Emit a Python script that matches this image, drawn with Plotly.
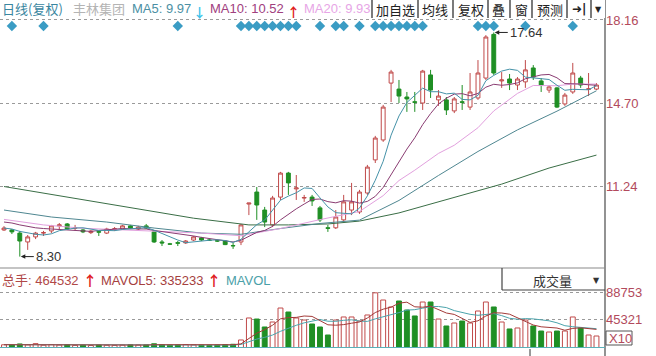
import plotly.graph_objects as go

# ---------------- data ----------------
days = list(range(76))

open_ = [9.41, 9.41, 9.28, 8.91, 9.12, 9.28, 9.37, 9.58, 9.66, 9.48,
         9.41, 9.30, 9.34, 9.28, 9.44, 9.45, 9.58, 9.45, 9.58, 9.33,
         8.91, 8.83, 8.88, 8.87, 8.99, 9.08, 8.99, 8.96, 8.95, 8.76,
         8.91, 10.49, 10.99, 10.24, 9.62, 10.78, 11.78, 11.12, 10.74, 10.78,
         10.33, 9.50, 9.50, 9.83, 10.24, 10.16, 10.95, 12.33, 13.16, 15.53,
         15.28, 14.95, 14.75, 14.70, 15.87, 14.83, 14.83, 14.37, 14.75, 14.53,
         14.91, 15.74, 17.56, 15.62, 15.70, 15.45, 15.58, 16.16, 15.62, 15.24,
         15.33, 14.66, 15.16, 15.74, 15.27, 15.28]
high_ = [9.57, 9.45, 9.37, 9.20, 9.33, 9.37, 9.62, 9.70, 9.70, 9.62,
         9.45, 9.41, 9.37, 9.50, 9.53, 9.62, 9.62, 9.58, 9.66, 9.37,
         8.99, 8.87, 8.95, 8.99, 9.16, 9.12, 9.03, 9.00, 8.99, 8.87,
         9.66, 10.53, 11.20, 10.37, 10.83, 11.83, 11.83, 11.70, 10.87, 10.87,
         10.41, 9.62, 10.24, 10.87, 11.37, 11.08, 12.12, 13.33, 14.62, 16.08,
         15.66, 15.16, 15.16, 16.08, 16.08, 15.24, 14.95, 14.95, 15.45, 15.95,
         16.49, 17.53, 17.64, 15.99, 15.91, 15.78, 16.49, 16.28, 15.74, 15.45,
         15.37, 15.12, 16.37, 15.83, 15.95, 15.53]
low_ = [9.37, 9.24, 8.30, 8.58, 9.03, 9.16, 9.28, 9.41, 9.41, 9.37,
        9.28, 9.24, 9.16, 9.24, 9.37, 9.41, 9.45, 9.41, 9.45, 8.87,
        8.74, 8.79, 8.74, 8.83, 8.95, 8.95, 8.95, 8.91, 8.78, 8.62,
        8.78, 10.03, 9.83, 9.53, 9.53, 10.66, 10.87, 10.66, 10.58, 10.41,
        9.74, 9.33, 9.45, 9.74, 10.03, 10.08, 10.87, 12.20, 13.08, 14.74,
        14.70, 14.33, 14.33, 14.41, 14.91, 14.58, 14.20, 14.28, 14.41, 14.41,
        14.83, 15.66, 15.87, 15.33, 15.24, 15.24, 15.33, 15.66, 15.16, 15.12,
        14.49, 14.58, 15.08, 15.33, 14.99, 15.24]
close_ = [9.49, 9.33, 8.95, 9.12, 9.28, 9.30, 9.58, 9.62, 9.45, 9.50,
          9.33, 9.36, 9.32, 9.45, 9.46, 9.58, 9.49, 9.53, 9.49, 8.91,
          8.87, 8.82, 8.86, 8.95, 9.12, 8.99, 8.98, 8.95, 8.80, 8.75,
          9.62, 10.53, 10.45, 9.74, 10.74, 11.78, 11.37, 11.16, 10.76, 10.62,
          9.83, 9.48, 9.95, 10.58, 10.58, 10.99, 12.03, 13.24, 14.53, 15.99,
          14.99, 14.87, 14.73, 16.03, 15.24, 14.99, 14.41, 14.87, 14.73, 15.16,
          15.95, 17.45, 15.95, 15.66, 15.53, 15.70, 16.08, 15.78, 15.45, 15.37,
          14.53, 15.03, 15.95, 15.45, 15.29, 15.45]

ma5 = [9.49, 9.45, 9.35, 9.28, 9.23, 9.20, 9.25, 9.38, 9.45, 9.49,
       9.50, 9.45, 9.39, 9.39, 9.38, 9.43, 9.46, 9.50, 9.51, 9.40,
       9.26, 9.12, 8.99, 8.88, 8.92, 8.95, 8.98, 9.00, 8.97, 8.89,
       9.02, 9.33, 9.63, 9.82, 10.22, 10.65, 10.82, 10.96, 11.16, 11.14,
       10.75, 10.37, 10.13, 10.09, 10.08, 10.32, 10.83, 11.48, 12.27, 13.36,
       14.16, 14.72, 15.02, 15.32, 15.17, 15.17, 15.08, 15.11, 14.85, 14.83,
       15.02, 15.63, 15.85, 16.03, 16.11, 16.06, 15.78, 15.75, 15.71, 15.68,
       15.44, 15.23, 15.27, 15.27, 15.25, 15.43]
ma10 = [9.74, 9.70, 9.62, 9.55, 9.50, 9.47, 9.45, 9.43, 9.40, 9.38,
        9.35, 9.35, 9.39, 9.42, 9.44, 9.47, 9.46, 9.45, 9.45, 9.39,
        9.35, 9.29, 9.25, 9.20, 9.16, 9.10, 9.05, 8.99, 8.93, 8.91,
        8.98, 9.16, 9.31, 9.39, 9.56, 9.83, 10.07, 10.29, 10.49, 10.68,
        10.70, 10.59, 10.54, 10.63, 10.61, 10.53, 10.60, 10.81, 11.18, 11.72,
        12.24, 12.78, 13.25, 13.80, 14.26, 14.66, 14.90, 15.07, 15.09, 15.00,
        15.10, 15.36, 15.48, 15.44, 15.47, 15.54, 15.71, 15.80, 15.87, 15.89,
        15.75, 15.51, 15.51, 15.49, 15.46, 15.44]
ma20_days = [0, 5, 10, 15, 20, 25, 30, 35, 40, 45, 48, 50, 52, 55, 57, 60, 62, 65, 67, 70, 72, 75]
ma20 = [9.85, 9.62, 9.48, 9.42, 9.35, 9.28, 9.17, 9.47, 9.84, 10.18, 10.84, 11.47,
        11.90, 12.60, 12.94, 13.67, 14.37, 15.10, 15.43, 15.42, 15.49, 15.49]
ma30_days = [0, 6, 13, 19, 25, 30, 35, 40, 45, 50, 55, 60, 65, 70, 75]
ma30 = [10.24, 9.95, 9.74, 9.49, 9.28, 9.23, 9.47, 9.68, 9.82, 10.64, 11.68, 12.68, 13.58, 14.36, 15.21]
ma60_days = [0, 8, 18, 24, 31, 36, 41, 45, 50, 56, 63, 69, 75]
ma60 = [11.22, 10.78, 10.20, 9.90, 9.62, 9.62, 9.66, 9.78, 10.12, 10.66, 11.32, 11.99, 12.53]

volume = [5200, 4800, 6500, 5000, 7000, 4500, 5500, 4800, 5600, 4200,
          4600, 4000, 4800, 4400, 4200, 4600, 5200, 4800, 5000, 6800,
          5200, 4500, 4800, 5500, 4900, 4600, 4300, 4700, 5400, 6000,
          12900, 48300, 46600, 33800, 41800, 64300, 57900, 48300, 45000, 38600,
          33800, 20900, 45000, 49900, 49900, 43400, 53100, 88753, 77200, 66000,
          75600, 61100, 51500, 74000, 74000, 46600, 35400, 40200, 43400, 40200,
          59500, 74000, 66000, 41800, 30600, 32200, 45000, 35400, 27300, 25700,
          27300, 27300, 49900, 32200, 20900, 19300]
mavol5 = [5300, 5200, 5400, 5300, 5700, 5560, 5660, 5460, 5480, 5220,
          4940, 4640, 4640, 4400, 4400, 4520, 4640, 4640, 4760, 5280,
          5320, 5260, 5260, 5360, 5380, 5100, 4820, 4800, 5000, 5280,
          6660, 15460, 23840, 29520, 36680, 46960, 48880, 49220, 51460, 50820,
          44720, 37320, 36660, 37640, 39900, 41820, 48260, 57010, 62470, 65690,
          72130, 73730, 66280, 65640, 67240, 61440, 56300, 54040, 47920, 41160,
          43740, 51460, 56620, 56300, 54380, 48920, 43120, 37000, 34100, 33120,
          32140, 28600, 31500, 32480, 31520, 29920]
mavol10 = [5400, 5350, 5350, 5300, 5300, 5350, 5400, 5300, 5300, 5300,
           5320, 5200, 5030, 4950, 4870, 4880, 4860, 4860, 4800, 4860,
           4890, 4880, 4880, 4930, 4990, 4990, 4920, 4910, 4950, 4830,
           5760, 10140, 14320, 17150, 20840, 26810, 32170, 36530, 40490, 43750,
           45840, 43100, 42940, 44550, 45360, 43270, 42790, 46840, 50060, 52800,
           56980, 61000, 61650, 64060, 66470, 66790, 65020, 60160, 56780, 54200,
           52590, 53880, 55330, 52110, 47770, 46330, 47290, 46810, 45200, 43750,
           40530, 35860, 34250, 33290, 32320, 31030]

signal_days = [1, 5, 22, 30, 31, 32, 33, 34, 35, 36, 37, 40, 42, 43, 45,
               47, 48, 49, 50, 51, 52, 53, 60, 61, 62, 66, 72]

price_ticks = [11.24, 14.70, 18.16]
price_tick_text = ["11.24", "14.70", "18.16"]
vol_ticks = [45321, 88753]
vol_tick_text = ["45321", "88753"]

# ---------------- styling ----------------
W, H = 656, 356
RIGHT = 605
UP = "#c04a4a"
DOWN = "#1f8f24"
LBL = "#b24a5c"
FONT = "Liberation Sans, Arial, Noto Sans CJK SC"
CJK = "Noto Sans CJK SC, Liberation Sans"


def px(x):
    return x / W


def py(y):
    return 1 - y / H


fig = go.Figure()

fig.add_trace(go.Candlestick(
    x=days, open=open_, high=high_, low=low_, close=close_,
    increasing=dict(line=dict(color=UP, width=1), fillcolor="white"),
    decreasing=dict(line=dict(color=DOWN, width=1), fillcolor=DOWN),
    whiskerwidth=0, showlegend=False, hoverinfo="skip", xaxis="x", yaxis="y"))

for xs, ys, col in [
    (ma60_days, ma60, "#3a6e46"),
    (ma30_days, ma30, "#4f8791"),
    (ma20_days, ma20, "#e2a0de"),
    (days, ma10, "#8a3c72"),
    (days, ma5, "#4592a8"),
]:
    fig.add_trace(go.Scatter(x=xs, y=ys, mode="lines", line=dict(color=col, width=1),
                             showlegend=False, hoverinfo="skip", xaxis="x", yaxis="y"))

fig.add_trace(go.Scatter(x=signal_days, y=[17.91] * len(signal_days), mode="markers",
                         marker=dict(symbol="diamond", size=8, color="#3a9cc4"),
                         showlegend=False, hoverinfo="skip", xaxis="x", yaxis="y"))

vol_fill = ["white" if c >= o else DOWN for o, c in zip(open_, close_)]
vol_line = [UP if c >= o else DOWN for o, c in zip(open_, close_)]
fig.add_trace(go.Bar(x=days, y=volume, width=0.62,
                     marker=dict(color=vol_fill, line=dict(color=vol_line, width=1)),
                     showlegend=False, hoverinfo="skip", xaxis="x", yaxis="y2"))
fig.add_trace(go.Scatter(x=days, y=mavol10, mode="lines", line=dict(color="#4aa3ab", width=1),
                         showlegend=False, hoverinfo="skip", xaxis="x", yaxis="y2"))
fig.add_trace(go.Scatter(x=days, y=mavol5, mode="lines", line=dict(color="#a33a38", width=1),
                         showlegend=False, hoverinfo="skip", xaxis="x", yaxis="y2"))

shapes = []


def hline(y, x0, x1, color, width=1, dash=None):
    shapes.append(dict(type="line", xref="paper", yref="paper", x0=px(x0), x1=px(x1),
                       y0=py(y), y1=py(y), line=dict(color=color, width=width, dash=dash)))


def vline(x, y0, y1, color, width=1):
    shapes.append(dict(type="line", xref="paper", yref="paper", x0=px(x), x1=px(x),
                       y0=py(y0), y1=py(y1), line=dict(color=color, width=width)))


# frame lines
vline(RIGHT, 0, H, "#4a4a4a", 1.2)
hline(268, 0, RIGHT, "#8a8a8a", 1.2)
hline(347.5, 0, RIGHT, "#5ab0b8", 1.2)
# toolbar
shapes.append(dict(type="rect", xref="paper", yref="paper", x0=px(372), x1=px(RIGHT),
                   y0=py(18), y1=py(0), fillcolor="white", line=dict(width=0)))
for sx in [372, 418, 453, 488, 510, 532, 567, 591]:
    vline(sx, 0, 18, "#333333", 1.3)
# 成交量 box
vline(502, 268, 290, "#444444", 1.2)
hline(290, 502, RIGHT, "#444444", 1.2)
# X10 box
shapes.append(dict(type="rect", xref="paper", yref="paper", x0=px(606), x1=px(632),
                   y0=py(345), y1=py(331), line=dict(color="#555555", width=1)))
vline(530, 349, 356, "#333333", 1)

annotations = []


def txt(x, y, s, color, size=13, family=FONT, anchor="left", vanchor="middle"):
    annotations.append(dict(xref="paper", yref="paper", x=px(x), y=py(y), text=s,
                            showarrow=False, xanchor=anchor, yanchor=vanchor,
                            font=dict(family=family, size=size, color=color)))


txt(0, 8, "日线(复权)", "#3a86a0", family=CJK)
txt(71, 8, "丰林集团", "#b4b4b4", family=CJK)
txt(130, 8, "MA5: 9.97", "#4b8fa3")
txt(191, 0, "<b>↓</b>", "#3cc3ea", size=13, family=CJK, vanchor="top")
txt(208, 8, "MA10: 10.52", "#a0407e")
txt(285, 0, "<b>↑</b>", "#e02020", size=13, family=CJK, vanchor="top")
txt(302, 8, "MA20: 9.93", "#e7a6e6")

for cx, s in [(395, "加自选"), (435.5, "均线"), (470.5, "复权"), (499, "叠"),
              (521, "窗"), (549.5, "预测")]:
    txt(cx, 9, s, "#222222", family=CJK, anchor="center")
txt(579, 9, "<b>➜|</b>", "#222222", size=12, family="DejaVu Sans", anchor="center")
txt(598, 9, "▼", "#222222", size=8, family="DejaVu Sans", anchor="center")

txt(0, 280, "总手: 464532", "#b04848")
txt(81, 280, "<b>↑</b>", "#e02020", size=14, family=CJK)
txt(99, 280, "MAVOL5: 335233", "#a5403e")
txt(205, 280, "<b>↑</b>", "#e02020", size=14, family=CJK)
txt(224, 280, "MAVOL", "#4aa0a8")

txt(552, 280, "成交量", "#333333", family=CJK, anchor="center")
txt(596, 280, "▼", "#333333", size=8, family="DejaVu Sans", anchor="center")
txt(607, 338, "X10", LBL)

annotations.append(dict(xref="x", yref="y", x=62, y=17.64, text="17.64", showarrow=True,
                        ax=14, ay=0, xanchor="left", arrowhead=2, arrowsize=0.9, arrowwidth=1,
                        arrowcolor="#222222", standoff=1,
                        font=dict(family=FONT, size=13, color="#333333")))
annotations.append(dict(xref="x", yref="y", x=2, y=8.30, text="8.30", showarrow=True,
                        ax=14, ay=0, xanchor="left", arrowhead=2, arrowsize=0.9, arrowwidth=1,
                        arrowcolor="#222222", standoff=1,
                        font=dict(family=FONT, size=13, color="#333333")))

fig.update_layout(
    width=W, height=H, margin=dict(l=0, r=0, t=0, b=0, pad=0), autosize=False,
    paper_bgcolor="white", plot_bgcolor="white", showlegend=False,
    font=dict(family=FONT, size=13),
    xaxis=dict(domain=[0, px(RIGHT)], range=[-0.506, 76.08], showticklabels=False,
               showgrid=False, zeroline=False, showline=False, ticks="",
               rangeslider=dict(visible=False), fixedrange=True, anchor="y2"),
    yaxis=dict(domain=[1 - 268 / H, 1], range=[7.825, 18.992], side="right",
               tickvals=price_ticks, ticktext=price_tick_text, ticks="",
               tickfont=dict(family=FONT, size=13, color=LBL),
               showgrid=True, gridcolor="#9a9a9a", griddash="dot", gridwidth=1,
               zeroline=False, showline=False, fixedrange=True, anchor="x"),
    yaxis2=dict(domain=[(H - 348) / H, (H - 269) / H], range=[0, 127079], side="right",
                tickvals=vol_ticks, ticktext=vol_tick_text, ticks="",
                tickfont=dict(family=FONT, size=13, color=LBL),
                showgrid=True, gridcolor="#9a9a9a", griddash="dot", gridwidth=1,
                zeroline=False, showline=False, fixedrange=True, anchor="x"),
    shapes=shapes, annotations=annotations,
)

fig.write_html("out.html", config={"displayModeBar": False},
               post_script="document.body.style.margin='0';document.body.style.padding='0';")
